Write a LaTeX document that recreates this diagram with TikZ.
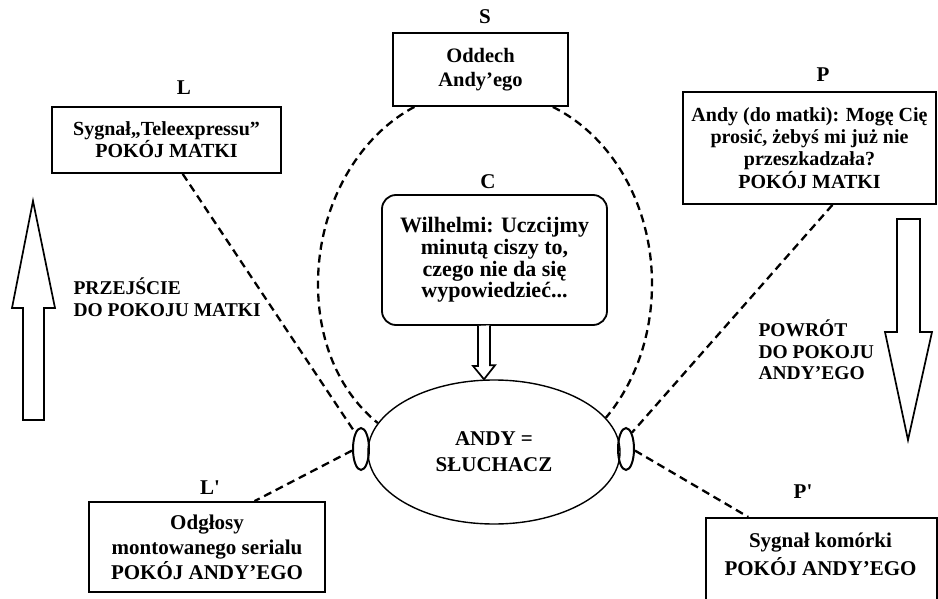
\documentclass[tikz,border=0pt]{standalone}
\usepackage{fontspec}
\setmainfont{Liberation Serif}
\usetikzlibrary{calc,positioning,shapes.geometric}

\tikzset{
  frame/.style={draw,line width=1.8pt,align=center,inner sep=0pt},
  room/.style={frame,font=\bfseries\fontsize{20}{22}\selectfont},
  tag/.style={font=\bfseries\fontsize{21}{22}\selectfont},
  move/.style={align=left,font=\bfseries\fontsize{19.5}{21.5}\selectfont},
  link/.style={line width=2.3pt,dash pattern=on 8pt off 5pt},
  ear/.style={draw,ellipse,line width=2pt,minimum width=16pt,minimum height=42pt,inner sep=0pt},
  hollow/.style={draw,line width=1.7pt,fill=white,line join=miter},
}

\begin{document}
\begin{tikzpicture}[x=1pt,y=-1pt]
	\useasboundingbox (0,0) rectangle (938,599);
	\clip (0,0) rectangle (938,599);

	% Sources
	\node[room,minimum width=229pt,minimum height=66pt] (L) at (166.5,140)
		{Sygnał„Teleexpressu”\\POKÓJ MATKI};
	\node[room,minimum width=175pt,minimum height=73pt,font=\bfseries\fontsize{20.5}{24}\selectfont] (S) at (480.5,69.5)
		{Oddech\\Andy’ego};
	\node[room,rounded corners=14pt,minimum width=225pt,minimum height=130pt,font=\bfseries\fontsize{22}{21.7}\selectfont] (C) at (494.5,260)
		{Wilhelmi: Uczcijmy\\minutą ciszy to,\\czego nie da się\\wypowiedzieć...};
	\node[room,minimum width=253pt,minimum height=112pt,font=\bfseries\fontsize{20}{22.3}\selectfont] (P) at (809.5,148)
		{Andy (do matki): Mogę Cię\\prosić, żebyś mi już nie\\przeszkadzała?\\POKÓJ MATKI};
	\node[room,minimum width=236pt,minimum height=90pt,font=\bfseries\fontsize{21}{25}\selectfont] (Lp) at (207,547)
		{Odgłosy\\montowanego serialu\\POKÓJ ANDY’EGO};
	\node[frame,anchor=north west,minimum width=231pt,minimum height=110pt] (Pp) at (705,517) {};
	\node[tag,align=center,font=\bfseries\fontsize{21}{28}\selectfont] (PpText) at (820.5,554)
		{Sygnał komórki\\POKÓJ ANDY’EGO};

	% Tags
	\node[tag] (Ltag) at (184,88) {L};
	\node[tag] (Stag) at (485,17) {S};
	\node[tag] (Ctag) at (488,182) {C};
	\node[tag] (Ptag) at (823,75) {P};
	\node[tag] (Lptag) at (210,488) {L\textquotesingle};
	\node[tag] (Pptag) at (803,492) {P\textquotesingle};

	% Listener
	\node[draw,ellipse,line width=1.4pt,minimum width=252pt,minimum height=144pt,align=center,
		font=\bfseries\fontsize{21}{26}\selectfont] (andy) at (494,452) {ANDY =\\SŁUCHACZ};
	\node[ear] (earL) at (361,449) {};
	\node[ear] (earR) at (626,449) {};

	% Dashed links
	\draw[link]
		($(L.south west)!0.57!(L.south east)$) -- (earL.110)
		($(P.south west)!0.59!(P.south east)$) -- (earR.70)
		(earL.190) -- ($(Lp.north west)!0.70!(Lp.north east)$)
		(earR.-10) -- ($(Pp.north west)!0.186!(Pp.north east)$)
		;
	\coordinate (ringW) at (318,284);
	\coordinate (ringE) at (652,284);
	\draw[link]
		($(S.south west)!0.126!(S.south east)$) .. controls (356,138) and (318,208) .. (ringW)
		.. controls (318,338) and (337,390) .. (andy.166)
		;
	\draw[link]
		($(S.south west)!0.909!(S.south east)$) .. controls (613,137) and (652,206) .. (ringE)
		.. controls (652,334) and (636,382) .. (andy.17)
		;

	% Hollow arrows
	\coordinate (tip) at ($(andy.north)+(-10,0)$);
	\draw[hollow]
		($(C.south)+(-16.5,0)$) -- ++(0,40) -- ++(-5,0) -- (tip) -- ++(11,-14) -- ++(-5,0) -- ++(0,-40);
	\draw[hollow]
		(23,420) -- (23,308) -- (12,308) -- (33,201) -- (55,308) -- (44,308) -- (44,420) -- cycle;
	\draw[hollow]
		(897,219) -- (920,219) -- (920,332) -- (932,332) -- (908,440) -- (885,332) -- (897,332) -- cycle;

	% Moves
	\node[move,anchor=west] (toMother) at (70,297) {PRZEJŚCIE\\DO POKOJU MATKI};
	\node[move,anchor=west] (toAndy) at (755,350) {POWRÓT\\DO POKOJU\\ANDY’EGO};
\end{tikzpicture}
\end{document}
